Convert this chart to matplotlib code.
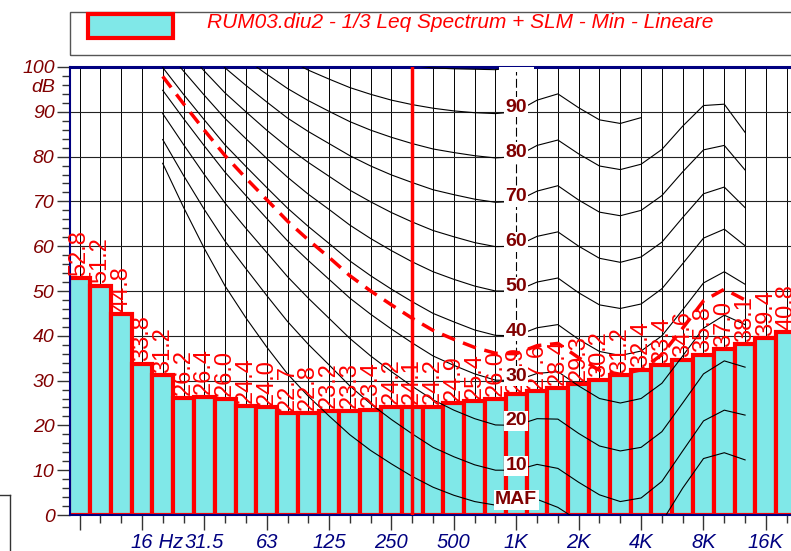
import matplotlib
matplotlib.use('Agg')
import matplotlib.pyplot as plt
from matplotlib.patches import Rectangle
from matplotlib.lines import Line2D

plt.rcParams['font.family'] = ['Liberation Sans', 'DejaVu Sans']

# 1/3 octave Leq, bands 8 Hz .. 20 kHz
leq = [52.8, 51.2, 44.8, 33.8, 31.2, 26.2, 26.4, 26.0, 24.4, 24.0,
       22.7, 22.8, 23.2, 23.3, 23.4, 24.2, 24.1, 24.2, 24.9, 25.4,
       26.0, 26.9, 27.6, 28.4, 29.3, 30.2, 31.2, 32.4, 33.4, 34.6,
       35.8, 37.0, 38.1, 39.4, 40.8]
major_pos = [0, 3, 6, 9, 12, 15, 18, 21, 24, 27, 30, 33]
major_lbl = ['', '16', '31.5', '63', '125', '250', '500', '1K', '2K', '4K', '8K', '16K']
cursor_band = 16   # 315 Hz
ref_band = 21      # 1 kHz

# isophonic curves, 20 Hz .. 12.5 kHz (band index 4 .. 32)
maf = [78.5, 68.7, 59.5, 51.1, 44.0, 37.5, 31.5, 26.5, 22.1, 17.9, 14.4, 11.4, 8.6, 6.2, 4.4,
       3.0, 2.2, 2.4, 3.5, 1.7, -1.3, -4.2, -6.0, -5.4, -1.5, 6.0, 12.6, 13.9, 12.3]
phon10 = [83.8, 75.8, 68.2, 61.1, 55.0, 49.0, 43.2, 38.1, 33.5, 28.8, 24.8, 21.3, 18.1, 15.1, 13.0,
          11.2, 10.0, 10.0, 11.3, 10.4, 7.3, 4.5, 3.0, 3.8, 7.5, 14.3, 21.0, 23.4, 22.3]
phon20 = [89.6, 82.7, 76.0, 69.6, 64.0, 58.6, 53.2, 48.4, 43.9, 39.4, 35.5, 32.0, 28.7, 25.7, 23.4,
          21.5, 20.1, 20.0, 21.5, 21.4, 18.2, 15.4, 14.3, 15.1, 18.6, 25.0, 31.5, 34.4, 33.0]
phon30 = [94.8, 88.5, 82.4, 76.5, 71.3, 66.2, 61.2, 56.8, 52.6, 48.4, 44.8, 41.5, 38.4, 35.5, 33.4,
          31.5, 30.1, 30.0, 31.6, 32.0, 28.8, 26.0, 25.0, 26.0, 29.4, 35.5, 41.7, 44.6, 42.5]
phon40 = [99.9, 93.9, 88.2, 82.6, 77.8, 73.1, 68.5, 64.4, 60.6, 56.7, 53.4, 50.4, 47.6, 45.0, 43.1,
          41.3, 40.1, 40.0, 41.8, 42.5, 39.2, 36.5, 35.6, 36.6, 40.0, 45.8, 51.8, 54.3, 51.5]
phon50 = [104.7, 99.1, 93.7, 88.5, 84.0, 79.6, 75.4, 71.6, 68.2, 64.7, 61.7, 59.0, 56.5, 54.3, 52.6,
          51.1, 50.0, 50.0, 52.0, 52.9, 49.6, 46.9, 46.1, 47.1, 50.5, 56.1, 61.8, 63.8, 60.1]
phon60 = [109.5, 104.2, 99.1, 94.2, 90.0, 85.9, 82.1, 78.7, 75.6, 72.5, 69.9, 67.5, 65.4, 63.5, 62.1,
          60.8, 59.9, 60.0, 62.2, 63.2, 60.0, 57.3, 56.4, 57.6, 60.9, 66.4, 71.7, 73.2, 68.6]
phon70 = [114.3, 109.2, 104.4, 99.8, 95.9, 92.2, 88.6, 85.6, 82.9, 80.2, 77.9, 75.9, 74.2, 72.6, 71.5,
          70.5, 69.8, 70.0, 72.3, 73.5, 70.3, 67.6, 66.8, 68.0, 71.3, 76.6, 81.5, 82.5, 77.0]
phon80 = [119.0, 114.2, 109.6, 105.3, 101.7, 98.4, 95.2, 92.5, 90.1, 87.8, 85.9, 84.3, 82.9, 81.7, 80.9,
          80.2, 79.7, 80.0, 82.5, 83.7, 80.6, 77.9, 77.1, 78.3, 81.6, 86.8, 91.4, 91.7, 85.4]
phon90 = [123.7, 119.2, 114.9, 110.9, 107.5, 104.5, 101.7, 99.3, 97.3, 95.4, 93.9, 92.6, 91.6, 90.8,
          90.2, 89.8, 89.6, 90.0, 92.6, 94.0, 90.9, 88.2, 87.4, 88.7]
phon100 = [128.4, 124.2, 120.1, 116.4, 113.4, 110.6, 108.2, 106.2, 104.5, 103.0, 101.8, 101.0, 100.3,
           99.8, 99.6, 99.5, 99.4, 100.0]
# SLM loudness curve (dashed)
slm = [97.9, 91.8, 85.9, 80.2, 75.2, 70.4, 65.6, 61.4, 57.5, 53.4, 50.0, 46.9, 43.9, 41.2, 39.2,
       37.4, 36.1, 36.0, 37.8, 38.3, 35.1, 32.3, 31.4, 32.4, 35.8, 41.7, 47.8, 50.4, 48.0]

curves = [('MAF', 2.4, maf), ('10', 10, phon10), ('20', 20, phon20), ('30', 30, phon30),
          ('40', 40, phon40), ('50', 50, phon50), ('60', 60, phon60), ('70', 70, phon70),
          ('80', 80, phon80), ('90', 90, phon90), ('100', 100, phon100)]

fig = plt.figure(figsize=(7.91, 5.51), dpi=100)
ax = fig.add_axes([70/791, 36/551, 730/791, 448/551])
ax.set_xlim(-0.457, 34.64)
ax.set_ylim(0, 100)

# grid
for i in range(len(leq)):
    if i == ref_band:
        ax.plot([i, i], [0, 100], color='k', lw=0.8, dashes=(8, 3), zorder=0)
    else:
        ax.plot([i, i], [0, 100], color='k', lw=0.7, zorder=0)
for y in range(10, 100, 10):
    ax.axhline(y, color='#222222', lw=0.8, zorder=0)

ax.bar(range(len(leq)), leq, width=1.0, color='#80e8e8', edgecolor='red', lw=3, zorder=2)

for name, lvl, c in curves:
    ax.plot(range(4, 4 + len(c)), c, color='k', lw=0.8, zorder=3)
    ax.text(ref_band, lvl, name, ha='center', va='baseline', fontsize=14, fontweight='bold',
            color='#800000', bbox=dict(fc='white', ec='none', pad=1), zorder=8, clip_on=True)
ax.plot(range(4, 4 + len(slm)), slm, color='red', lw=2.5, dashes=(4, 2.5), zorder=4)
ax.axvline(cursor_band, color='red', lw=2.5, zorder=5)

for i, v in enumerate(leq):
    ax.text(i, v + 0.6, f'{v:.1f}', rotation=90, ha='center', va='bottom',
            color='red', fontsize=17, zorder=6)

# axes
ax.set_xticks(major_pos)
ax.set_xticklabels(major_lbl)
ax.set_xticks(range(len(leq)), minor=True)
ax.tick_params(axis='x', which='major', length=11, width=1, color='#333333', pad=2,
               labelsize=14.5, labelcolor='#000080')
ax.tick_params(axis='x', which='minor', length=5.5, width=1, color='#333333')
ax.set_yticks(range(0, 101, 10))
ax.set_yticks(range(0, 101, 2), minor=True)
ax.tick_params(axis='y', which='major', length=9.5, width=1, color='#333333', pad=1.5,
               labelsize=14, labelcolor='#800000')
ax.tick_params(axis='y', which='minor', length=5.5, width=1, color='#333333')
for lbl in ax.get_xticklabels() + ax.get_yticklabels():
    lbl.set_style('italic')
ax.text(3.52, -18/448, ' Hz', transform=ax.get_xaxis_transform(), ha='left', va='top',
        fontsize=14.5, style='italic', color='#000080')
ax.text(-0.0205, 95.5, 'dB', transform=ax.get_yaxis_transform(), ha='right', va='center',
        fontsize=14, style='italic', color='#800000')

for s in ['left', 'bottom']:
    ax.spines[s].set_color('#000080')
    ax.spines[s].set_linewidth(1.5)
ax.spines['top'].set_color('#000080')
ax.spines['top'].set_linewidth(2.2)
ax.spines['right'].set_visible(False)

# legend box
fig.add_artist(Rectangle((70/791, 1 - 55/551), 0.95, 43/551, transform=fig.transFigure,
                         fill=False, ec='#555555', lw=1))
fig.add_artist(Rectangle((88/791, 1 - 38/551), 85/791, 24/551, transform=fig.transFigure,
                         fc='#80e8e8', ec='red', lw=3))
fig.text(207/791, 1 - 22.5/551, 'RUM03.diu2 - 1/3 Leq Spectrum + SLM - Min - Lineare',
         ha='left', va='center', fontsize=15, style='italic', color='red')
fig.add_artist(Line2D([0, 10/791], [1 - 495/551] * 2, transform=fig.transFigure, color='#333333', lw=1))
fig.add_artist(Line2D([10/791] * 2, [1 - 495/551, 0], transform=fig.transFigure, color='#333333', lw=1))

fig.savefig('out.png', dpi=100)
